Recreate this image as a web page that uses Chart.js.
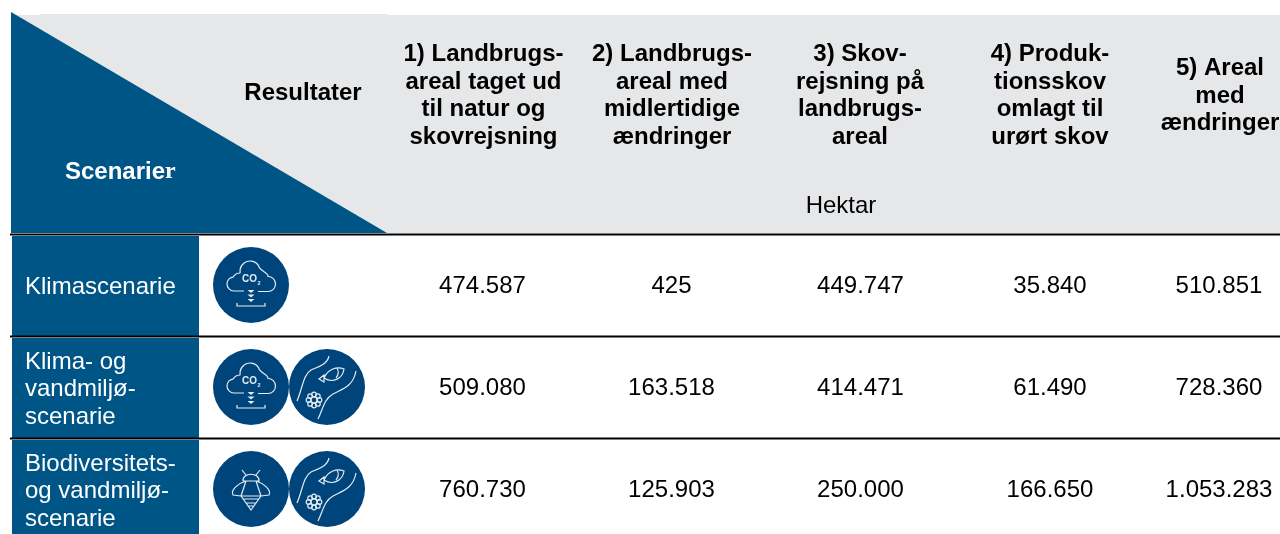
<!DOCTYPE html>
<html lang="da">
<head>
<meta charset="utf-8">
<title>Scenarier og resultater</title>
<script src="https://cdn.jsdelivr.net/npm/chart.js@4"></script>
<style>
    html, body { margin: 0; padding: 0; background: #fff; overflow: hidden; }
    canvas { display: block; }
</style>
</head>
<body>
<canvas id="tableChart" width="1280" height="534"></canvas>
<script>
// Tabellens indhold
const scenarios = ["Klimascenarie", "Klima- og vandmiljøscenarie", "Biodiversitets- og vandmiljøscenarie"];
const scenarioLines = [
    ["Klimascenarie"],
    ["Klima- og", "vandmiljø-", "scenarie"],
    ["Biodiversitets-", "og vandmiljø-", "scenarie"],
];
const scenarioIcons = [["co2"], ["co2", "river"], ["bee", "river"]];
const columns = ["Scenarier", "Resultater", "Kolonne 1", "Kolonne 2", "Kolonne 3", "Kolonne 4", "Kolonne 5"];
const columnHeaders = [
    ["1) Landbrugs-", "areal taget ud", "til natur og", "skovrejsning"],
    ["2) Landbrugs-", "areal med", "midlertidige", "ændringer"],
    ["3) Skov-", "rejsning på", "landbrugs-", "areal"],
    ["4) Produk-", "tionsskov", "omlagt til", "urørt skov"],
    ["5) Areal", "med", "ændringer"],
];
const unitLabel = "Hektar";
const klimaValues = [474587, 425, 449747, 35840, 510851];
const klimaVandValues = [509080, 163518, 414471, 61490, 728360];
const bioVandValues = [760730, 125903, 250000, 166650, 1053283];

// Farver og layout
const BLUE = "#005587";
const ICON_BLUE = "#00447c";
const GREY = "#e6e7e9";
const LINE = "#e4ecf3";
const FONT = "'Liberation Sans', Arial, sans-serif";
const headerNudge = [1.5, 1, 0, 1, -18];
const valueNudge = [0.5, 0.5, 0.5, 1, -19];

function formatValue(value) {
    return String(value).replace(/\B(?=(\d{3})+$)/g, ".");
}

function valuePoints(values, scenario) {
    return values.map((value, i) => ({ x: columns[i + 2], y: scenario, value: value }));
}

function drawStroke(ctx, build) {
    ctx.beginPath();
    build();
    ctx.stroke();
}

// Ikoner tegnes omkring cirklens centrum
function drawCo2Icon(ctx) {
    ctx.lineWidth = 1.2;
    drawStroke(ctx, () => {
        ctx.moveTo(-7, 6);
        ctx.lineTo(-17, 6);
        ctx.arc(-17, -1, 7, Math.PI / 2, Math.PI * 1.45);
        ctx.bezierCurveTo(-16, -11, -13, -12, -11, -12);
        ctx.arc(-1, -14, 10, Math.PI * 1.05, Math.PI * 1.9);
        ctx.bezierCurveTo(12, -13, 17, -12, 17, -9);
        ctx.arc(17, -1, 7.5, -Math.PI / 2, Math.PI / 2);
        ctx.lineTo(7, 6.5);
    });
    drawStroke(ctx, () => {
        ctx.moveTo(-14, 18);
        ctx.lineTo(-14, 21);
        ctx.lineTo(14, 21);
        ctx.lineTo(14, 18);
    });
    [5, 9.5, 14].forEach((y) => {
        ctx.beginPath();
        ctx.moveTo(-3.5, y);
        ctx.lineTo(3.5, y);
        ctx.lineTo(0, y + 3);
        ctx.closePath();
        ctx.fill();
    });
    ctx.textAlign = "left";
    ctx.textBaseline = "middle";
    ctx.font = "bold 10px " + FONT;
    ctx.fillText("CO", -9, -5.5);
    ctx.font = "bold 5.5px " + FONT;
    ctx.fillText("2", 6.5, -1.5);
}

function drawRiverIcon(ctx) {
    ctx.lineWidth = 1.2;
    drawStroke(ctx, () => {
        ctx.moveTo(2, -31);
        ctx.bezierCurveTo(0, -22, -10, -20, -16, -17);
        ctx.bezierCurveTo(-24, -12, -24, 0, -30, 14);
    });
    drawStroke(ctx, () => {
        ctx.moveTo(29, -16);
        ctx.bezierCurveTo(26, 0, 15, 2, 6, 7);
        ctx.bezierCurveTo(-3, 12, -4, 22, -9, 32);
    });
    // fisk
    drawStroke(ctx, () => {
        ctx.moveTo(-3, -9);
        ctx.bezierCurveTo(1, -18, 10, -21, 17, -18);
        ctx.bezierCurveTo(16, -9, 6, -3, -3, -9);
        ctx.lineTo(-3, -12);
        ctx.lineTo(-8, -8);
        ctx.lineTo(-3, -5);
        ctx.lineTo(-3, -9);
        ctx.moveTo(10, -19);
        ctx.quadraticCurveTo(13, -14, 9, -9);
    });
    // blomst
    for (let i = 0; i < 8; i++) {
        const a = i * Math.PI / 4;
        drawStroke(ctx, () => ctx.arc(-13 + Math.cos(a) * 5.5, 13 + Math.sin(a) * 5.5, 2.3, 0, Math.PI * 2));
    }
    drawStroke(ctx, () => ctx.arc(-13, 13, 3, 0, Math.PI * 2));
}

function drawBeeIcon(ctx) {
    ctx.lineWidth = 1.2;
    drawStroke(ctx, () => {
        // følehorn og hoved
        ctx.moveTo(-9, -19);
        ctx.lineTo(-5, -14);
        ctx.moveTo(9, -19);
        ctx.lineTo(5, -14);
        ctx.moveTo(-8, -8);
        ctx.bezierCurveTo(-9, -17, 9, -17, 8, -8);
        ctx.lineTo(-8, -8);
        // vinger
        ctx.moveTo(-5, -8);
        ctx.bezierCurveTo(-12, -6, -21, 1, -18, 6);
        ctx.lineTo(-10, 7);
        ctx.moveTo(5, -8);
        ctx.bezierCurveTo(12, -6, 21, 1, 18, 6);
        ctx.lineTo(10, 7);
        // krop
        ctx.moveTo(-5, -8);
        ctx.lineTo(-10, 7);
        ctx.lineTo(0, 21);
        ctx.lineTo(10, 7);
        ctx.lineTo(5, -8);
        ctx.moveTo(-10, 7);
        ctx.lineTo(10, 7);
        ctx.moveTo(-8, 10);
        ctx.lineTo(8, 10);
        ctx.moveTo(-5.5, 14);
        ctx.lineTo(5.5, 14);
        ctx.moveTo(-3.5, 17);
        ctx.lineTo(3.5, 17);
    });
}

const iconDrawers = { co2: drawCo2Icon, river: drawRiverIcon, bee: drawBeeIcon };

function drawLines(ctx, lines, x, centerY, lineHeight) {
    lines.forEach((line, i) => {
        ctx.fillText(line, x, centerY + (i - (lines.length - 1) / 2) * lineHeight);
    });
}

// Tabellens ramme bag datapunkterne
const tableFrame = {
    id: "tableFrame",
    beforeDatasetsDraw(chart) {
        const { ctx, scales } = chart;
        const { x, y } = scales;
        const bandLeft = x.getPixelForValue(0) - 92;
        const bandRight = x.getPixelForValue(0) + 95;

        ctx.save();
        ctx.fillStyle = GREY;
        ctx.fillRect(12, 15, 1268, 218);
        ctx.fillRect(40, 14, 348, 1);
        ctx.fillStyle = BLUE;
        ctx.beginPath();
        ctx.moveTo(11, 12);
        ctx.lineTo(387, 233);
        ctx.lineTo(11, 233);
        ctx.closePath();
        ctx.fill();

        scenarios.forEach((name, i) => {
            const center = y.getPixelForValue(i);
            ctx.fillStyle = BLUE;
            ctx.fillRect(bandLeft, center - 49, bandRight - bandLeft, 100);
            ctx.fillStyle = "#000";
            ctx.fillRect(10, center - 51.5, 1270, 2);
        });
        ctx.restore();
    },
    afterDatasetsDraw(chart) {
        const { ctx, scales } = chart;
        const { x, y } = scales;

        ctx.save();
        ctx.textAlign = "center";
        ctx.textBaseline = "middle";

        // kolonneoverskrifter
        ctx.fillStyle = "#000";
        ctx.font = "bold 24px " + FONT;
        columnHeaders.forEach((lines, i) => {
            drawLines(ctx, lines, x.getPixelForValue(i + 2) + headerNudge[i], 96, 27.6);
        });
        ctx.fillText(columns[1], 303, 93);
        ctx.font = "24px " + FONT;
        ctx.fillText(unitLabel, 841, 206);

        // "Scenarier" har et serif-r til sidst i forlægget
        ctx.fillStyle = "#fff";
        ctx.textAlign = "left";
        ctx.font = "bold 24px " + FONT;
        const stem = columns[0].slice(0, -1);
        ctx.fillText(stem, 65, 172);
        const stemWidth = ctx.measureText(stem).width;
        ctx.font = "bold 24px 'Liberation Serif', serif";
        ctx.fillText(columns[0].slice(-1), 65 + stemWidth, 172);

        // scenarienavne og ikoner
        scenarioLines.forEach((lines, i) => {
            ctx.fillStyle = "#fff";
            ctx.textAlign = "left";
            ctx.textBaseline = "middle";
            ctx.font = "24px " + FONT;
            drawLines(ctx, lines, 25, y.getPixelForValue(i) + 2.5, 27.5);

            scenarioIcons[i].forEach((icon, k) => {
                const cx = x.getPixelForValue(1) - 42 + k * 76;
                const cy = y.getPixelForValue(i);
                ctx.save();
                ctx.translate(cx, cy);
                ctx.fillStyle = ICON_BLUE;
                ctx.beginPath();
                ctx.arc(0, 0, 38, 0, Math.PI * 2);
                ctx.fill();
                ctx.strokeStyle = LINE;
                ctx.fillStyle = LINE;
                iconDrawers[icon](ctx);
                ctx.restore();
            });
        });

        // talværdier
        ctx.fillStyle = "#000";
        ctx.textAlign = "center";
        ctx.textBaseline = "middle";
        ctx.font = "24px " + FONT;
        chart.data.datasets.forEach((dataset, d) => {
            chart.getDatasetMeta(d).data.forEach((point, i) => {
                ctx.fillText(formatValue(dataset.data[i].value), point.x + valueNudge[i], point.y + 1);
            });
        });
        ctx.restore();
    },
};

new Chart(document.getElementById("tableChart").getContext("2d"), {
    type: "scatter",
    data: {
        datasets: [
            { label: scenarios[0], data: valuePoints(klimaValues, scenarios[0]), pointRadius: 0 },
            { label: scenarios[1], data: valuePoints(klimaVandValues, scenarios[1]), pointRadius: 0 },
            { label: scenarios[2], data: valuePoints(bioVandValues, scenarios[2]), pointRadius: 0 },
        ],
    },
    options: {
        responsive: false,
        animation: false,
        layout: { padding: { left: 104, right: 42, top: 285, bottom: 45 } },
        plugins: {
            legend: { display: false },
            tooltip: { enabled: false },
        },
        scales: {
            x: { type: "category", labels: columns, display: false, offset: false },
            y: { type: "category", labels: scenarios, display: false, offset: false },
        },
    },
    plugins: [tableFrame],
});
</script>
</body>
</html>
